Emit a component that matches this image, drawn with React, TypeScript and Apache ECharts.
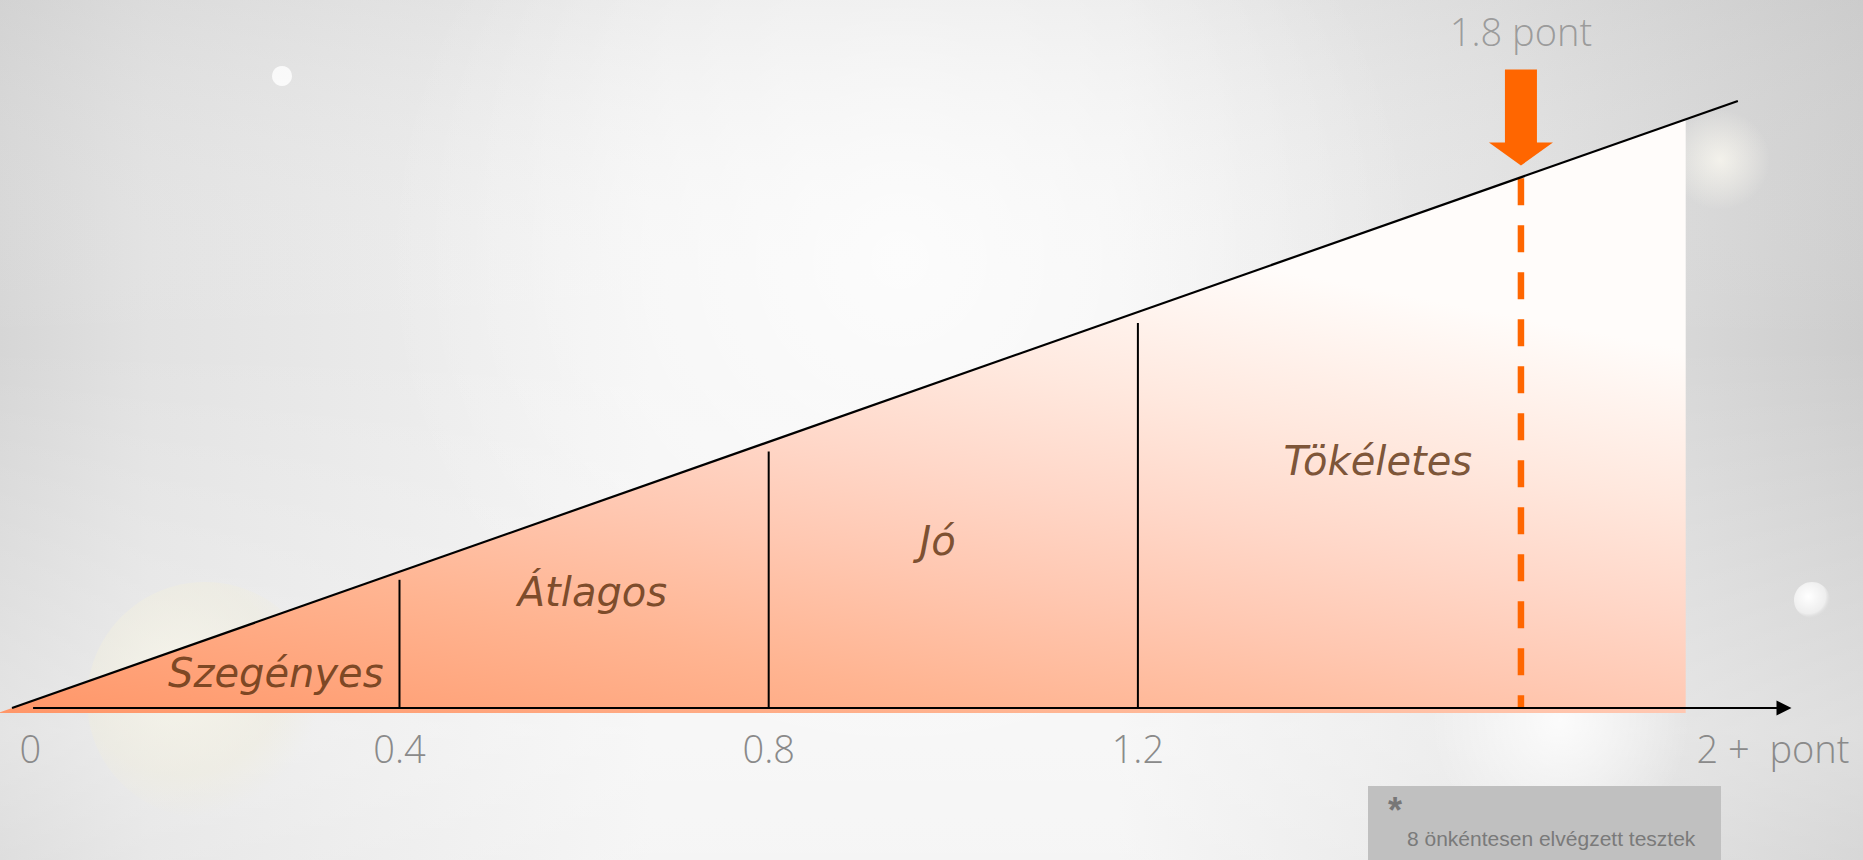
import React, { useEffect, useRef } from "react";
import * as echarts from "echarts";

// ---- data ----
const axisTickValues = [0, 0.4, 0.8, 1.2, 1.888];
const axisTickLabels = ["0", "0.4", "0.8", "1.2", "2 +  pont"];
const axisStart = 0.003;
const axisEnd = 1.9;
const boundaryX = [0.4, 0.8, 1.2];
const boundaryTop = [0.395, 0.79, 1.186];
const categoryNames = ["Szegényes", "Átlagos", "Jó", "Tökéletes"];
const categoryX = [0.266, 0.609, 0.983, 1.46];
const categoryY = [0.108, 0.357, 0.513, 0.762];
const scaleLine = [
  [-0.0198, 0],
  [1.85, 1.87],
];
const fillShape = [
  [-0.035, -0.015],
  [1.7935, 1.813],
];
const markerX = 1.615;
const markerTop = 1.632;
const markerArrowTip = 1.671;
const markerText = "1.8 pont";
const markerTextY = 2.086;
const footnoteStar = "*";
const footnoteText = "8 önkéntesen elvégzett tesztek";

const FONT = "'Open Sans', 'DejaVu Sans', sans-serif";
const LABEL_FONT = "'DejaVu Sans', 'Open Sans', sans-serif";

export default function App() {
  const ref = useRef<HTMLDivElement>(null);

  useEffect(() => {
    if (!ref.current) return;
    const chart = echarts.init(ref.current, undefined, { renderer: "svg" });

    const fillGradient = new echarts.graphic.LinearGradient(0, 1, 0.495, 0.108, [
      { offset: 0, color: "rgb(255,150,104)" },
      { offset: 0.286, color: "rgb(255,180,145)" },
      { offset: 0.476, color: "rgb(255,200,178)" },
      { offset: 0.619, color: "rgb(255,215,200)" },
      { offset: 0.781, color: "rgb(255,232,222)" },
      { offset: 1, color: "rgb(255,252,250)" },
    ]);

    const boundarySeries = boundaryX.map((x, i) => ({
      type: "line",
      name: "boundary" + i,
      data: [
        [x, 0],
        [x, boundaryTop[i]],
      ],
      symbol: "none",
      lineStyle: { color: "#000", width: 2 },
      z: 3,
      silent: true,
    }));

    const labelData = categoryNames.map((n, i) => ({
      name: n,
      value: [categoryX[i], categoryY[i]],
    }));

    const option: any = {
      animation: false,
      graphic: [
        {
          type: "rect",
          z: -12,
          silent: true,
          shape: { x: 0, y: 0, width: 1863, height: 860 },
          style: {
            fill: new echarts.graphic.LinearGradient(0, 0, 1, 0, [
              { offset: 0, color: "#d6d6d6" },
              { offset: 0.08, color: "#e2e2e2" },
              { offset: 0.35, color: "#f3f3f3" },
              { offset: 0.6, color: "#f3f3f3" },
              { offset: 0.8, color: "#e3e3e3" },
              { offset: 1, color: "#cdcdcd" },
            ]),
          },
        },
        {
          type: "rect",
          z: -11,
          silent: true,
          shape: { x: 0, y: 0, width: 1863, height: 860 },
          style: {
            fill: new echarts.graphic.LinearGradient(0, 0, 0, 1, [
              { offset: 0, color: "rgba(200,200,200,0.25)" },
              { offset: 0.4, color: "rgba(255,255,255,0)" },
              { offset: 0.85, color: "rgba(255,255,255,0.35)" },
              { offset: 1, color: "rgba(255,255,255,0.2)" },
            ]),
          },
        },
        {
          type: "circle",
          z: -10,
          silent: true,
          shape: { cx: 900, cy: 260, r: 520 },
          style: {
            fill: new echarts.graphic.RadialGradient(0.5, 0.5, 0.5, [
              { offset: 0, color: "rgba(255,255,255,0.75)" },
              { offset: 1, color: "rgba(255,255,255,0)" },
            ]),
          },
        },
        {
          type: "circle",
          z: -9,
          silent: true,
          shape: { cx: 205, cy: 700, r: 118 },
          style: {
            fill: new echarts.graphic.RadialGradient(0.4, 0.4, 0.6, [
              { offset: 0, color: "rgba(250,248,236,0.75)" },
              { offset: 0.7, color: "rgba(240,237,220,0.45)" },
              { offset: 1, color: "rgba(240,237,220,0)" },
            ]),
          },
        },
        {
          type: "circle",
          z: -9,
          silent: true,
          shape: { cx: 1560, cy: 720, r: 130 },
          style: {
            fill: new echarts.graphic.RadialGradient(0.5, 0.5, 0.5, [
              { offset: 0, color: "rgba(255,255,255,0.85)" },
              { offset: 1, color: "rgba(255,255,255,0)" },
            ]),
          },
        },
        {
          type: "circle",
          z: -9,
          silent: true,
          shape: { cx: 1720, cy: 160, r: 50 },
          style: {
            fill: new echarts.graphic.RadialGradient(0.5, 0.5, 0.5, [
              { offset: 0, color: "rgba(250,248,240,0.8)" },
              { offset: 1, color: "rgba(250,248,240,0)" },
            ]),
          },
        },
        {
          type: "circle",
          z: -9,
          silent: true,
          shape: { cx: 1812, cy: 600, r: 18 },
          style: {
            fill: new echarts.graphic.RadialGradient(0.4, 0.4, 0.6, [
              { offset: 0, color: "#ffffff" },
              { offset: 0.8, color: "#eeeeee" },
              { offset: 1, color: "rgba(220,220,220,0.4)" },
            ]),
          },
        },
        {
          type: "circle",
          z: -9,
          silent: true,
          shape: { cx: 282, cy: 76, r: 10 },
          style: { fill: "rgba(255,255,255,0.8)" },
        },
        {
          type: "rect",
          z: 100,
          silent: true,
          shape: { x: 1368, y: 786, width: 353, height: 74 },
          style: { fill: "#c0c0c0" },
        },
        {
          type: "text",
          z: 101,
          silent: true,
          x: 1388,
          y: 810,
          style: {
            text: footnoteStar,
            fill: "#777777",
            font: "bold 36px 'Liberation Sans', Arial, sans-serif",
            textVerticalAlign: "middle",
          },
        },
        {
          type: "text",
          z: 101,
          silent: true,
          x: 1407,
          y: 838,
          style: {
            text: footnoteText,
            fill: "#7a7a7a",
            font: "21px 'Liberation Sans', Arial, sans-serif",
            textVerticalAlign: "middle",
          },
        },
      ],
      grid: {
        left: 0.76,
        right: 79,
        top: 26.3,
        bottom: 147.1,
        outerBoundsMode: "none",
        containLabel: false,
      },
      xAxis: {
        type: "value",
        min: -0.032,
        max: 1.9,
        z: 5,
        splitLine: { show: false },
        axisTick: { show: false },
        axisLine: { show: false },
        axisLabel: {
          show: true,
          customValues: axisTickValues,
          margin: 16,
          color: "#8a8a8a",
          fontSize: 38,
          fontFamily: FONT,
          fontWeight: 300,
          formatter: (v: number) => {
            let best = 0;
            axisTickValues.forEach((t, i) => {
              if (Math.abs(t - v) < Math.abs(axisTickValues[best] - v)) best = i;
            });
            return axisTickLabels[best];
          },
        },
      },
      yAxis: {
        type: "value",
        min: -0.015,
        max: 2.1,
        show: false,
        splitLine: { show: false },
      },
      series: [
        {
          type: "line",
          name: "fill",
          data: fillShape,
          symbol: "none",
          lineStyle: { width: 0, opacity: 0 },
          areaStyle: { color: fillGradient, opacity: 1, origin: "start" },
          z: 1,
          silent: true,
        },
        ...boundarySeries,
        {
          type: "line",
          name: "marker",
          data: [
            [markerX, markerTop],
            [markerX, 0],
          ],
          symbol: "none",
          lineStyle: { color: "#FF6600", width: 6.5, type: [27, 20] },
          z: 4,
          silent: true,
          markPoint: {
            symbol: "path://M16,0L48,0L48,73L64,73L32,96L0,73L16,73Z",
            symbolSize: [64, 96],
            symbolOffset: [0, -48],
            symbolKeepAspect: false,
            itemStyle: { color: "#FF6600" },
            label: { show: false },
            silent: true,
            data: [{ coord: [markerX, markerArrowTip] }],
          },
        },
        {
          type: "line",
          name: "scale",
          data: scaleLine,
          symbol: "none",
          lineStyle: { color: "#000", width: 2.2 },
          z: 5,
          silent: true,
          markLine: {
            silent: true,
            symbol: ["none", "triangle"],
            symbolSize: 15,
            label: { show: false },
            emphasis: { disabled: true },
            lineStyle: { color: "#000", width: 2.2, type: "solid" },
            data: [[{ coord: [axisStart, 0] }, { coord: [axisEnd, 0] }]],
          },
        },
        {
          type: "scatter",
          name: "labels",
          data: labelData,
          symbolSize: 1,
          itemStyle: { color: "rgba(0,0,0,0)" },
          z: 6,
          silent: true,
          label: {
            show: true,
            position: "inside",
            formatter: "{b}",
            color: "#5a2f0d",
            fontSize: 40,
            fontStyle: "italic",
            fontFamily: LABEL_FONT,
          },
        },
        {
          type: "scatter",
          name: "markerLabel",
          data: [{ name: markerText, value: [markerX, markerTextY] }],
          symbolSize: 1,
          itemStyle: { color: "rgba(0,0,0,0)" },
          z: 6,
          silent: true,
          label: {
            show: true,
            position: "inside",
            formatter: "{b}",
            color: "#8a8a8a",
            fontSize: 38,
            fontWeight: 300,
            fontFamily: FONT,
          },
        },
      ],
    };

    chart.setOption(option);
    return () => chart.dispose();
  }, []);

  return (
    <div
      ref={ref}
      style={{ position: "absolute", left: 0, top: 0, width: 1863, height: 860 }}
    />
  );
}
